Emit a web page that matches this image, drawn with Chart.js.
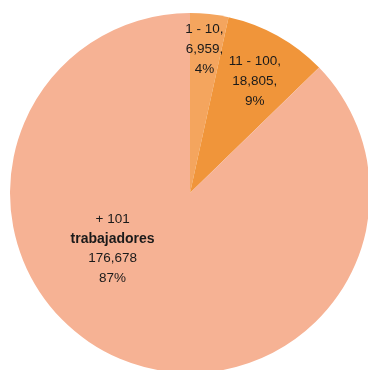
<!DOCTYPE html>
<html>
<head>
<meta charset="utf-8">
<script src="https://cdn.jsdelivr.net/npm/chart.js@4.4.1/dist/chart.umd.min.js"></script>
<style>
  html, body { margin: 0; padding: 0; background: #fff; overflow: hidden; }
  #wrap { width: 380px; height: 386px; }
</style>
</head>
<body>
<div id="wrap"><canvas id="empresasChart"></canvas></div>
<script>
// Empresas por tamaño (número de trabajadores)
const categories = ['1 - 10', '11 - 100', '+ 101 trabajadores'];
const empresas = [6959, 18805, 176678];
const porcentajes = ['4%', '9%', '87%'];

const colors = ['#F4A55E', '#F0953A', '#F6B294'];

// label text lines per slice (bold flag on the second)
const labelLines = [
    [['1 - 10,', false], ['6,959,', false], ['4%', false]],
    [['11 - 100,', false], ['18,805,', false], ['9%', false]],
    [['+ 101', false], ['trabajadores', true], ['176,678', false], ['87%', false]]
];
// where each label block sits, as a fraction of the radius from the centre
const labelAnchors = [[0.08, -0.8], [0.36, -0.62], [-0.43, 0.31]];

const sliceLabels = {
    id: 'sliceLabels',
    afterDatasetsDraw(chart) {
        const c = chart.ctx;
        const arcs = chart.getDatasetMeta(0).data;
        c.save();
        c.fillStyle = '#1a1a1a';
        c.textAlign = 'center';
        c.textBaseline = 'middle';
        arcs.forEach((arc, i) => {
            const r = arc.outerRadius;
            const cx = arc.x + labelAnchors[i][0] * r;
            const cy = arc.y + labelAnchors[i][1] * r;
            const lines = labelLines[i];
            const lh = 19.8;
            const top = cy - (lines.length - 1) * lh / 2;
            lines.forEach((l, k) => {
                c.font = (l[1] ? 'bold 14px' : '13.5px') + ' "Liberation Sans", Arial, sans-serif';
                c.fillText(l[0], cx, top + k * lh);
            });
        });
        c.restore();
    }
};

const ctx = document.getElementById('empresasChart').getContext('2d');
new Chart(ctx, {
    type: 'pie',
    data: {
        labels: categories,
        datasets: [{ data: empresas, backgroundColor: colors, borderWidth: 0 }]
    },
    options: {
        responsive: true,
        maintainAspectRatio: false,
        animation: false,
        layout: { padding: { left: 10, top: 13, right: 10, bottom: 13 } },
        plugins: { legend: { display: false }, tooltip: { enabled: false } }
    },
    plugins: [sliceLabels]
});
</script>
</body>
</html>
